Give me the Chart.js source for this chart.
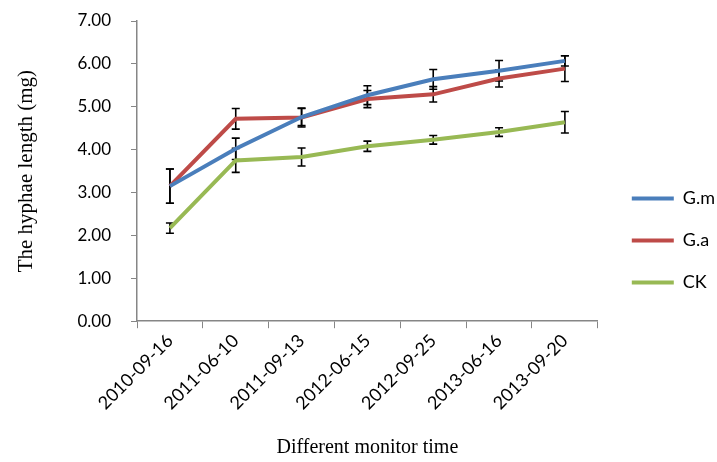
<!DOCTYPE html>
<html>
<head>
<meta charset="utf-8">
<script src="https://cdn.jsdelivr.net/npm/chart.js@4.4.1/dist/chart.umd.min.js"></script>
<style>
  html, body { margin: 0; padding: 0; background: #fff; overflow: hidden; }
  #wrap { position: relative; width: 725px; height: 462px; }
</style>
</head>
<body>
<div id="wrap"><canvas id="chart"></canvas></div>
<script>
const dates = ['2010-09-16', '2011-06-10', '2011-09-13', '2012-06-15', '2012-09-25', '2013-06-16', '2013-09-20'];
const gm = [3.15, 4.02, 4.76, 5.27, 5.64, 5.84, 6.07];
const ga = [3.15, 4.72, 4.75, 5.18, 5.29, 5.66, 5.89];
const ck = [2.17, 3.75, 3.83, 4.08, 4.23, 4.41, 4.64];
const gmErr = [0.40, 0.25, 0.20, 0.22, 0.23, 0.24, 0.12];
const gaErr = [0.40, 0.24, 0.22, 0.20, 0.18, 0.20, 0.30];
const ckErr = [0.12, 0.28, 0.21, 0.12, 0.10, 0.10, 0.25];

const axisColor = '#868686';

// black error bars with caps, drawn under the lines
const errorBars = {
  id: 'errorBars',
  beforeDatasetsDraw(chart) {
    const ctx = chart.ctx;
    const y = chart.scales.y;
    ctx.save();
    ctx.strokeStyle = '#000';
    ctx.lineWidth = 1.6;
    chart.data.datasets.forEach((ds, di) => {
      const meta = chart.getDatasetMeta(di);
      meta.data.forEach((pt, i) => {
        const v = ds.data[i], e = ds.errors[i];
        const top = y.getPixelForValue(v + e);
        const bot = y.getPixelForValue(v - e);
        ctx.beginPath();
        ctx.moveTo(pt.x, top); ctx.lineTo(pt.x, bot);
        ctx.moveTo(pt.x - 4, top); ctx.lineTo(pt.x + 4, top);
        ctx.moveTo(pt.x - 4, bot); ctx.lineTo(pt.x + 4, bot);
        ctx.stroke();
      });
    });
    ctx.restore();
  }
};

function series(label, data, errors, color) {
  return {
    label, data, errors,
    borderColor: color,
    backgroundColor: color,
    borderWidth: 4,
    pointRadius: 0,
    pointHoverRadius: 0,
    tension: 0,
    fill: false
  };
}

new Chart(document.getElementById('chart'), {
  type: 'line',
  data: {
    labels: dates,
    datasets: [
      series('G.m', gm, gmErr, '#4A7EBB'),
      series('G.a', ga, gaErr, '#BE4B48'),
      series('CK', ck, ckErr, '#98B954')
    ]
  },
  options: {
    responsive: true,
    maintainAspectRatio: false,
    animation: false,
    layout: { padding: { top: 21, bottom: 2, left: 0, right: 0 } },
    plugins: {
      tooltip: { enabled: false },
      legend: {
        position: 'right',
        labels: {
          usePointStyle: true,
          pointStyle: 'line',
          pointStyleWidth: 42,
          padding: 24,
          color: '#000',
          font: { family: 'Lato', size: 18 }
        }
      }
    },
    scales: {
      x: {
        offset: true,
        grid: { display: true, drawOnChartArea: false, offset: true, color: axisColor, tickLength: 7 },
        border: { color: axisColor, width: 1.5 },
        ticks: {
          autoSkip: false, minRotation: 45, maxRotation: 45, padding: 2,
          color: '#000', font: { family: 'Lato', size: 18 }
        },
        title: {
          display: true, text: 'Different monitor time', color: '#000',
          font: { family: 'Liberation Serif', size: 20 }, padding: { top: 20, bottom: 0 }
        }
      },
      y: {
        min: 0, max: 7,
        grid: { display: true, drawOnChartArea: false, color: axisColor, tickLength: 6 },
        border: { color: axisColor, width: 1.5 },
        ticks: {
          stepSize: 1, padding: 20, color: '#000',
          font: { family: 'Lato', size: 17 },
          callback: v => v.toFixed(2)
        },
        title: {
          display: true, text: 'The hyphae length (mg)', color: '#000',
          font: { family: 'Liberation Serif', size: 21 }, padding: { top: 14, bottom: 20 }
        },
        afterFit(scale) {
          scale.width = 137;
          scale.paddingTop = 0;
        }
      },
      gap: {
        position: 'right', display: true,
        grid: { display: false }, border: { display: false },
        ticks: { display: false },
        afterFit(scale) { scale.width = 10; }
      }
    }
  },
  plugins: [errorBars]
});
</script>
</body>
</html>
